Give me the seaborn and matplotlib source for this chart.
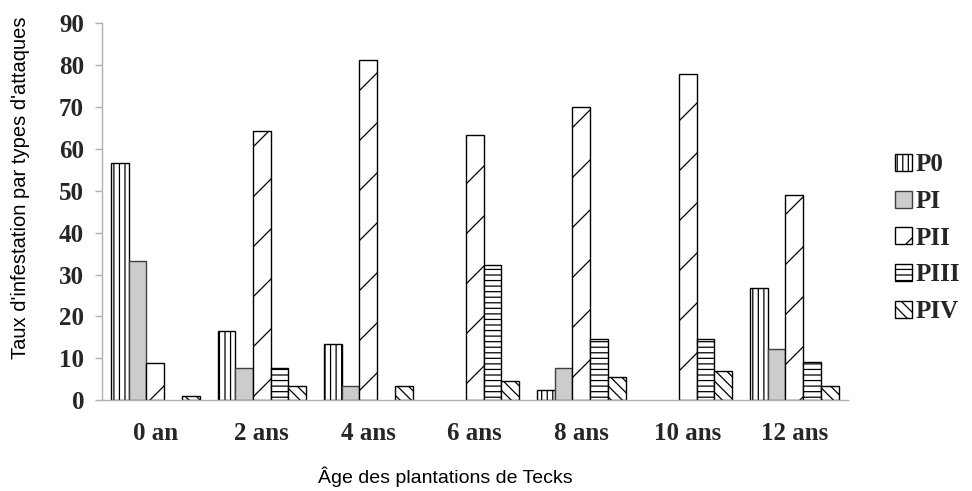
import numpy as np
import pandas as pd
import matplotlib
matplotlib.use("Agg")
import matplotlib.pyplot as plt
import matplotlib.patches as mpatches
import matplotlib.hatch as mhatch
import seaborn as sns

# Age classes of the teak plantations and attack types
ages = ["0 an", "2 ans", "4 ans", "6 ans", "8 ans", "10 ans", "12 ans"]
types = ["P0", "PI", "PII", "PIII", "PIV"]

# Infestation rate (%) per attack type, one value per age class
p0 = [56.6, 16.6, 13.4, 0.0, 2.4, 0.0, 26.7]
p1 = [33.3, 7.8, 3.3, 0.0, 7.8, 0.0, 12.3]
p2 = [8.9, 64.4, 81.2, 63.3, 70.1, 77.8, 48.9]
p3 = [0.0, 7.8, 0.0, 32.3, 14.5, 14.5, 9.0]
p4 = [1.0, 3.3, 3.4, 4.5, 5.6, 6.9, 3.3]

y_ticks = [0, 10, 20, 30, 40, 50, 60, 70, 80, 90]


# Wider spacing for the single "/" hatch used by PII
class SparseNorthEastHatch(mhatch.NorthEastHatch):
    def __init__(self, hatch, density):
        super().__init__(hatch, density)
        if hatch == "/":
            self.num_lines = 4
            self.num_vertices = (self.num_lines + 1) * 2


mhatch._hatch_types = [SparseNorthEastHatch if t is mhatch.NorthEastHatch else t
                       for t in mhatch._hatch_types]

series = {"P0": p0, "PI": p1, "PII": p2, "PIII": p3, "PIV": p4}
rows = []
for t in types:
    for a, v in zip(ages, series[t]):
        rows.append({"age": a, "type": t, "taux": v})
df = pd.DataFrame(rows)

styles = {
    "P0": dict(face="white", hatch="|||", edge="black"),
    "PI": dict(face="#cccccc", hatch=None, edge="#404040"),
    "PII": dict(face="white", hatch="/", edge="black"),
    "PIII": dict(face="white", hatch="---", edge="black"),
    "PIV": dict(face="white", hatch="\\\\\\", edge="black"),
}

sns.set_theme(style="white")
plt.rcParams["font.family"] = ["Liberation Sans", "DejaVu Sans"]
plt.rcParams["hatch.linewidth"] = 0.9
plt.rcParams["hatch.color"] = "black"

fig = plt.figure(figsize=(9.72, 4.91), dpi=100)
ax = fig.add_axes([0.105, 0.185, 0.767, 0.7675])

sns.barplot(data=df, x="age", y="taux", hue="type", order=ages, hue_order=types,
            palette=[styles[t]["face"] for t in types], width=0.83, saturation=1,
            edgecolor="black", linewidth=1.0, legend=False, ax=ax)

for cont, t in zip(ax.containers, types):
    st = styles[t]
    for bar in cont.patches:
        bar.set_facecolor(st["face"])
        bar.set_edgecolor(st["edge"])
        if st["hatch"]:
            bar.set_hatch(st["hatch"])
        if bar.get_height() == 0:
            bar.set_visible(False)

serif_bold = dict(family="Liberation Serif", fontweight="bold", fontsize=18)
axis_grey = "#b0b0b0"
ax.set_ylim(0, 90)
ax.set_xlim(-0.5, len(ages) - 0.5)
ax.set_yticks(y_ticks)
ax.set_yticklabels([str(v) for v in y_ticks], **serif_bold)
ax.set_xticks(range(len(ages)))
ax.set_xticklabels(ages, **serif_bold)
ax.set_xticks(np.arange(-0.5, len(ages), 1.0), minor=True)
ax.tick_params(axis="x", which="major", length=0, pad=16)
ax.tick_params(axis="x", which="minor", length=6, width=1, color=axis_grey,
               direction="out")
ax.tick_params(axis="y", which="major", length=5, width=1, color=axis_grey,
               direction="out", pad=8, left=True)

for side in ("top", "right"):
    ax.spines[side].set_visible(False)
for side in ("left", "bottom"):
    ax.spines[side].set_color(axis_grey)
    ax.spines[side].set_linewidth(1.0)

ax.set_ylabel("Taux d'infestation par types d'attaques", fontsize=14.5, color="black")
ax.yaxis.set_label_coords(-0.097, 0.563)
ax.set_xlabel("Âge des plantations de Tecks", fontsize=14, color="black")
ax.xaxis.set_label_coords(0.461, -0.176)

handles = [mpatches.Patch(facecolor=styles[t]["face"], edgecolor=styles[t]["edge"],
                          hatch=styles[t]["hatch"], linewidth=1.0, label=t)
           for t in types]
fig.legend(handles=handles, loc="center left", bbox_to_anchor=(0.921, 0.515),
           frameon=False, prop={"family": "Liberation Serif", "weight": "bold",
                                "size": 18},
           handlelength=0.68, handleheight=0.68, handletextpad=0.15,
           labelspacing=0.55, borderpad=0, borderaxespad=0)

fig.savefig("out.png", dpi=100)
